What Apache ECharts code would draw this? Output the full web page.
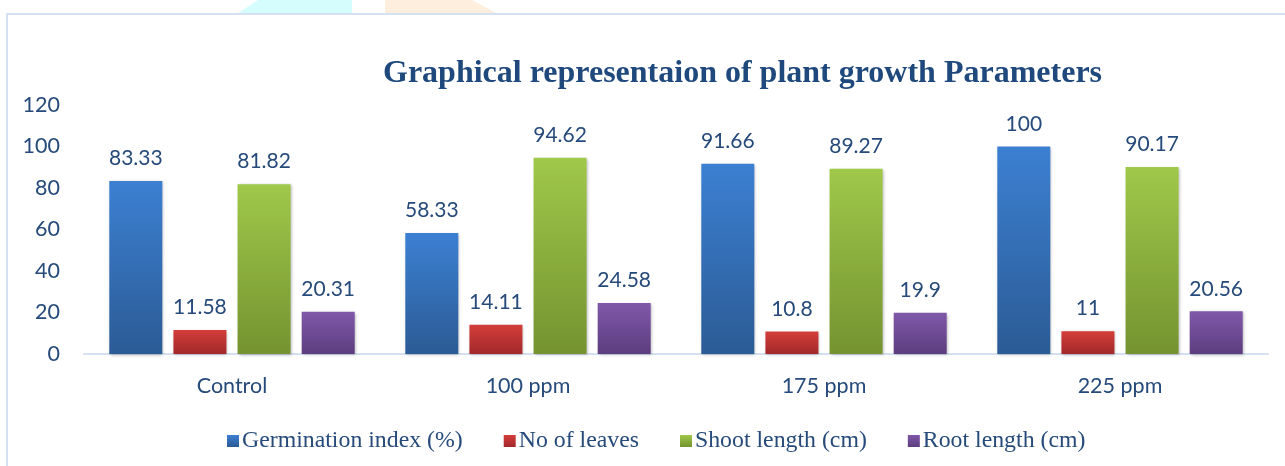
<!DOCTYPE html>
<html>
<head>
<meta charset="utf-8">
<script src="https://cdn.jsdelivr.net/npm/echarts@6/dist/echarts.min.js"></script>
<style>
html,body{margin:0;padding:0;background:#fff;}
#main{width:1285px;height:466px;}
</style>
</head>
<body>
<div id="main"></div>
<script>
var categories=['Control','100 ppm','175 ppm','225 ppm'];
var germination=[83.33,58.33,91.66,100];
var leaves=[11.58,14.11,10.8,11];
var shoot=[81.82,94.62,89.27,90.17];
var root=[20.31,24.58,19.9,20.56];
var seriesNames=['Germination index (%)','No of leaves','Shoot length (cm)','Root length (cm)'];

var textColor='#264a7a';
// top / bottom colours of each bar gradient
var barColors=[['#3c80d2','#2b5b95'],['#d33e3a','#a2282a'],['#a0c84a','#749330'],['#8058aa','#5c3d7e']];

function grad(c){
	return new echarts.graphic.LinearGradient(0,0,0,1,[{offset:0,color:c[0]},{offset:1,color:c[1]}]);
}
function makeSeries(name,data,idx){
	return {
		name:name,
		type:'bar',
		data:data,
		barWidth:53,
		barGap:'21%',
		itemStyle:{
			color:grad(barColors[idx]),
			shadowColor:'rgba(0,0,0,0.3)',
			shadowBlur:3,
			shadowOffsetX:1,
			shadowOffsetY:1
		},
		label:{
			show:true,
			position:'top',
			distance:12,
			color:textColor,
			fontFamily:'Lato',
			fontSize:21
		}
	};
}

var chart=echarts.init(document.getElementById('main'));
var option={
	backgroundColor:'#fff',
	animation:false,
	graphic:[
		{type:'polygon',shape:{points:[[237,14],[258,0],[352,0],[352,14]]},style:{fill:'#d5fdfd'}},
		{type:'polygon',shape:{points:[[385,14],[385,0],[472,0],[498,14]]},style:{fill:'#fdeedd'}},
		{type:'rect',shape:{x:7,y:14,width:1300,height:500},style:{fill:'none',stroke:'#d5e1f2',lineWidth:2}}
	],
	title:{
		text:'Graphical representaion of plant growth Parameters',
		left:378,
		top:53,
		textStyle:{
			fontFamily:'Liberation Serif',
			fontWeight:'bold',
			fontSize:32,
			color:'#1f497d'
		}
	},
	legend:{
		data:seriesNames,
		left:222,
		top:424,
		itemWidth:12,
		itemHeight:12,
		itemGap:41,
		icon:'rect',
		textStyle:{
			fontFamily:'Liberation Serif',
			fontSize:23.8,
			color:textColor,
			padding:[0,0,0,-2]
		}
	},
	grid:{
		left:84,
		right:17,
		top:105,
		bottom:112
	},
	xAxis:{
		type:'category',
		data:categories,
		axisTick:{show:false},
		axisLine:{lineStyle:{color:'#d5e1f2',width:2}},
		axisLabel:{
			color:textColor,
			fontFamily:'Lato',
			fontSize:21.5,
			margin:21
		}
	},
	yAxis:{
		type:'value',
		min:0,
		max:120,
		interval:20,
		splitLine:{show:false},
		axisLine:{show:false},
		axisTick:{show:false},
		axisLabel:{
			color:textColor,
			fontFamily:'Lato',
			fontSize:21.5,
			margin:24
		}
	},
	series:[
		makeSeries(seriesNames[0],germination,0),
		makeSeries(seriesNames[1],leaves,1),
		makeSeries(seriesNames[2],shoot,2),
		makeSeries(seriesNames[3],root,3)
	]
};
chart.setOption(option);
</script>
</body>
</html>
